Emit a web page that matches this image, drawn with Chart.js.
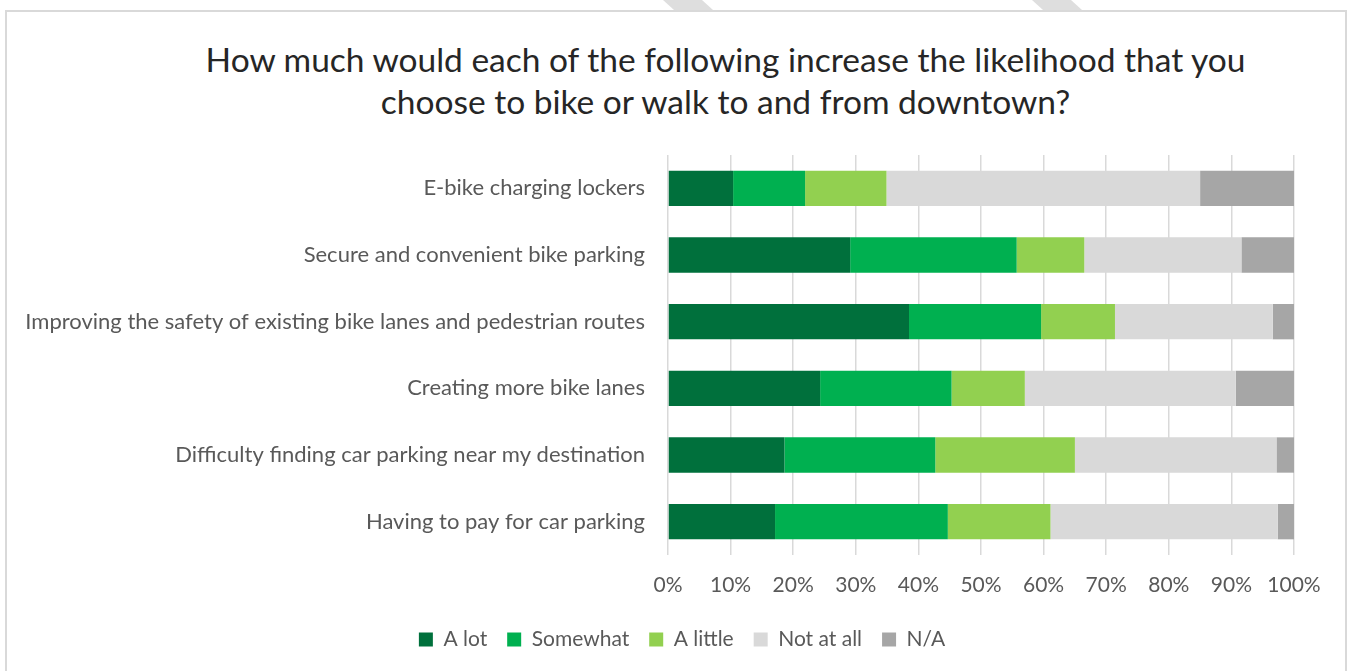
<!DOCTYPE html>
<html>
<head>
<meta charset="utf-8">
<script src="https://cdn.jsdelivr.net/npm/chart.js@4/dist/chart.umd.min.js"></script>
<style>
  html, body { margin: 0; padding: 0; background: #fff; }
  #wrap { position: relative; width: 1351px; height: 671px; overflow: hidden; }
  #frame { position: absolute; left: 5px; top: 10px; width: 1342px; height: 700px; border: 2px solid #d9d9d9; box-sizing: border-box; }
  .stripe { position: absolute; top: 0; height: 10px; background: #dedede; }
  #s1 { left: 663px; width: 50px; clip-path: polygon(0 0, 78% 0, 100% 100%, 22% 100%); }
  #s2 { left: 1032px; width: 50px; clip-path: polygon(0 0, 78% 0, 100% 100%, 22% 100%); }
  #title { position: absolute; left: 0; width: 1451px; top: 38px; text-align: center;
           font-family: Lato, sans-serif; font-size: 33.5px; line-height: 42px; color: #262626; }
  canvas { position: absolute; left: 0; top: 0; }
</style>
</head>
<body>
<div id="wrap">
  <div class="stripe" id="s1"></div>
  <div class="stripe" id="s2"></div>
  <div id="frame"></div>
  <div id="title">How much would each of the following increase the likelihood that you<br>choose to bike or walk to and from downtown?</div>
  <canvas id="chart" width="1351" height="671"></canvas>
</div>
<script>
// categorias (de arriba hacia abajo)
const categories = [
    "E-bike charging lockers",
    "Secure and convenient bike parking",
    "Improving the safety of existing bike lanes and pedestrian routes",
    "Creating more bike lanes",
    "Difficulty finding car parking near my destination",
    "Having to pay for car parking"
];

// porcentajes por respuesta
const aLot       = [10.4, 29.1, 38.5, 24.3, 18.6, 17.1];
const somewhat   = [11.5, 26.6, 21.1, 21.0, 24.1, 27.6];
const aLittle    = [13.0, 10.8, 11.8, 11.7, 22.3, 16.4];
const notAtAll   = [50.1, 25.1, 25.2, 33.7, 32.2, 36.3];
const notApplic  = [15.0,  8.4,  3.4,  9.3,  2.8,  2.6];

const tickLabels = ["0%", "10%", "20%", "30%", "40%", "50%", "60%", "70%", "80%", "90%", "100%"];

const fontFam = "Lato, sans-serif";
const textGray = "#595959";

function serie(label, data, color) {
    return {
        label: label,
        data: data,
        backgroundColor: color,
        borderWidth: 0,
        barPercentage: 0.53,
        categoryPercentage: 1
    };
}

// correr la leyenda un poco a la derecha (centrada en ~682px como el original)
const moverLeyenda = {
    id: 'moverLeyenda',
    afterLayout(chart) {
        chart.legend.left += 35;
        chart.legend.right += 35;
    }
};

const ctx = document.getElementById("chart").getContext("2d");
new Chart(ctx, {
    type: 'bar',
    data: {
        labels: categories,
        datasets: [
            serie("A lot", aLot, "#00703c"),
            serie("Somewhat", somewhat, "#00b050"),
            serie("A little", aLittle, "#92d050"),
            serie("Not at all", notAtAll, "#d9d9d9"),
            serie("N/A", notApplic, "#a6a6a6")
        ]
    },
    plugins: [moverLeyenda],
    options: {
        indexAxis: 'y',
        responsive: false,
        animation: false,
        layout: { padding: { left: 0, right: 57, top: 155, bottom: 11 } },
        plugins: {
            title: { display: false },
            tooltip: { enabled: false },
            legend: {
                position: 'bottom',
                labels: {
                    font: { family: fontFam, size: 21 },
                    color: textGray,
                    boxWidth: 14,
                    boxHeight: 14,
                    padding: 20
                }
            }
        },
        scales: {
            x: {
                stacked: true,
                min: 0,
                max: 100,
                afterBuildTicks: (scale) => {
                    scale.ticks = tickLabels.map((t, i) => ({ value: i * 10 }));
                },
                afterFit: (scale) => { scale.height = 54; },
                ticks: {
                    callback: (v, i) => tickLabels[i],
                    font: { family: fontFam, size: 21 },
                    color: textGray,
                    padding: 18
                },
                grid: { color: "#d9d9d9", lineWidth: 1.5, drawTicks: false },
                border: { display: false }
            },
            y: {
                stacked: true,
                afterFit: (scale) => { scale.width = 668; },
                ticks: {
                    font: { family: fontFam, size: 22 },
                    color: textGray,
                    padding: 15
                },
                grid: { display: false },
                border: { display: false }
            }
        }
    }
});
</script>
</body>
</html>
